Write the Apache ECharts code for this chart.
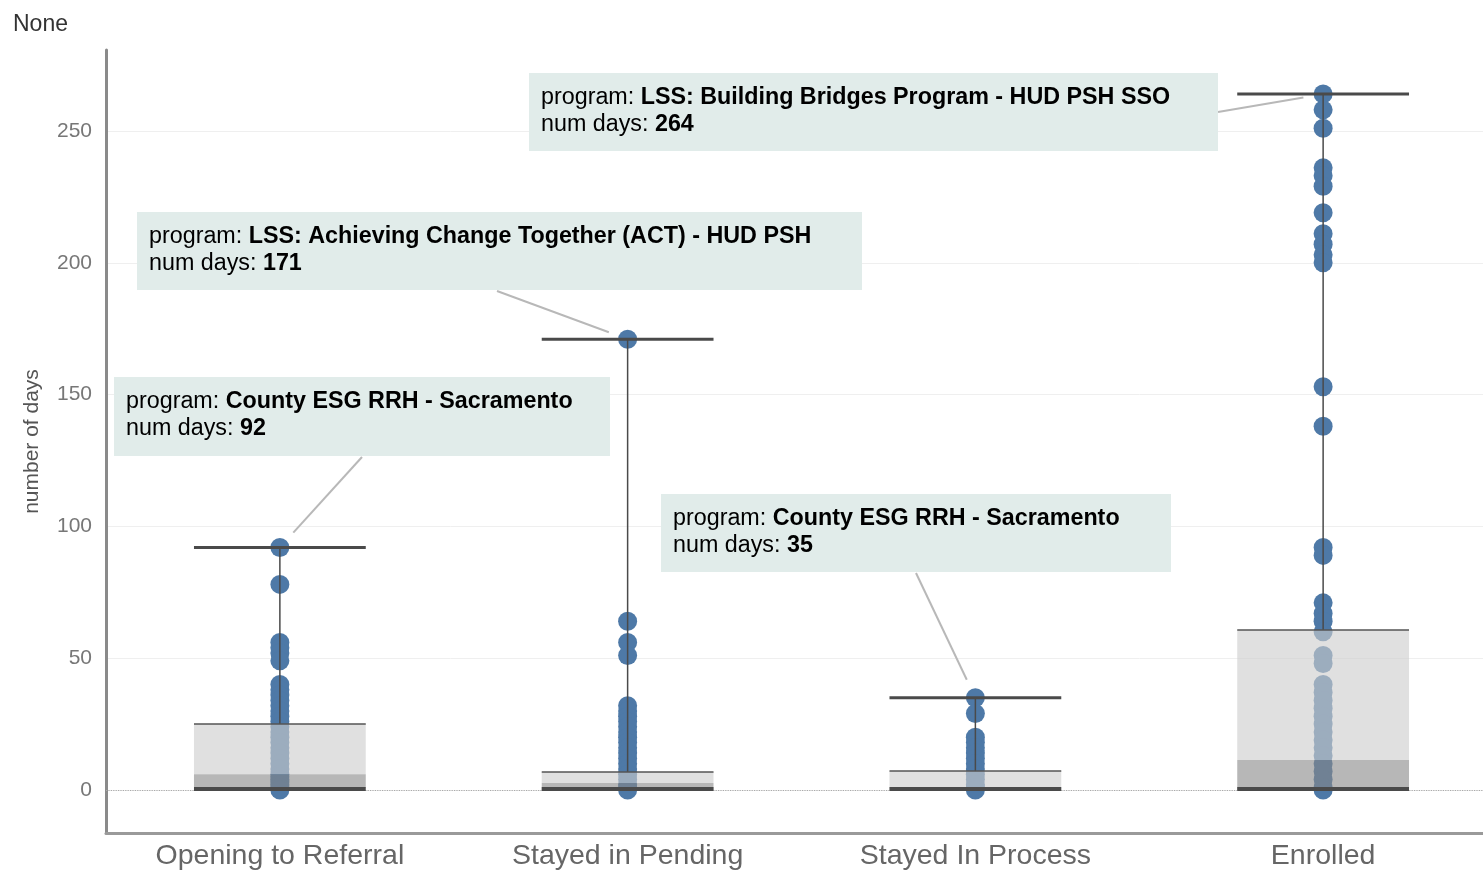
<!DOCTYPE html>
<html>
<head>
<meta charset="utf-8">
<title>number of days</title>
<script src="https://cdn.jsdelivr.net/npm/echarts@6/dist/echarts.min.js"></script>
<style>
  html, body { margin: 0; padding: 0; background: #fff; }
  #main { width: 1483px; height: 872px; }
</style>
</head>
<body>
<div id="main"></div>
<script>
// categories on the x axis
var categories = ['Opening to Referral', 'Stayed in Pending', 'Stayed In Process', 'Enrolled'];

// number of days per record
var openingDays = [92, 78, 56, 54, 52, 49, 40, 38, 36, 34, 32, 30, 28, 26, 24, 22, 20, 18, 16, 14, 12, 10, 8, 6, 5, 4, 3, 2, 1, 0];
var pendingDays = [171, 64, 56, 51, 32, 30, 28, 26, 24, 22, 20, 18, 16, 14, 12, 10, 8, 6, 4, 2, 1, 0];
var processDays = [35, 29, 20, 18, 16, 14, 12, 10, 8, 6, 4, 2, 1, 0];
var enrolledDays = [264, 258, 251, 236, 233, 229, 219, 211, 207, 203, 200, 153, 138, 92, 89, 71, 67, 64, 60,
  51, 48, 40, 37, 34, 31, 28, 25, 22, 19, 16, 13, 10, 7, 4, 1, 0];

// box stats: [lower whisker, q1, median, q3, upper whisker]
var openingBox = [0, 1, 6, 25, 92];
var pendingBox = [0, 0, 2.7, 6.8, 171];
var processBox = [0, 0, 0, 7.2, 35];
var enrolledBox = [0, 0, 11.4, 60.7, 264];

// annotations
var notePrograms = ['County ESG RRH - Sacramento', 'LSS: Achieving Change Together (ACT) - HUD PSH',
  'County ESG RRH - Sacramento', 'LSS: Building Bridges Program - HUD PSH SSO'];
var noteDays = [92, 171, 35, 264];

var allDays = [openingDays, pendingDays, processDays, enrolledDays];
var allBoxes = [openingBox, pendingBox, processBox, enrolledBox];

var dots = [];
allDays.forEach(function (list, i) {
  list.forEach(function (v) { dots.push([i, v]); });
});
var boxes = allBoxes.map(function (b, i) { return [i].concat(b); });

var myChart = echarts.init(document.getElementById('main'));

function renderBox(params, api) {
  var i = api.value(0);
  var half = api.size([1, 0])[0] * 0.247;
  var c = api.coord([i, 0])[0];
  var y = function (k) { return api.coord([i, api.value(k)])[1]; };
  var lo = y(1), q1 = y(2), med = y(3), q3 = y(4), hi = y(5);
  var x0 = c - half, x1 = c + half;
  return {
    type: 'group',
    children: [
      { type: 'rect', shape: { x: x0, y: q3, width: 2 * half, height: med - q3 }, style: { fill: 'rgba(205,205,205,0.62)' } },
      { type: 'rect', shape: { x: x0, y: med, width: 2 * half, height: q1 - med }, style: { fill: 'rgba(135,135,135,0.6)' } },
      { type: 'line', shape: { x1: c, y1: hi, x2: c, y2: q3 }, style: { stroke: '#4a4a4a', lineWidth: 1.5 } },
      { type: 'line', shape: { x1: x0, y1: q3, x2: x1, y2: q3 }, style: { stroke: '#555', lineWidth: 1.5 } },
      { type: 'line', shape: { x1: x0, y1: hi, x2: x1, y2: hi }, style: { stroke: '#4a4a4a', lineWidth: 3 } },
      { type: 'line', shape: { x1: x0, y1: lo - 1, x2: x1, y2: lo - 1 }, style: { stroke: '#4a4a4a', lineWidth: 4 } }
    ]
  };
}

var option = {
  animation: false,
  backgroundColor: '#fff',
  textStyle: { fontFamily: 'Liberation Sans, Arial, sans-serif' },
  title: {
    text: 'None',
    left: 8,
    top: 8,
    textStyle: { fontSize: 23, fontWeight: 'normal', color: '#333' }
  },
  grid: { left: 106, top: 50, right: -14, bottom: 39, outerBoundsMode: 'none', containLabel: false },
  xAxis: {
    type: 'category',
    data: categories,
    boundaryGap: true,
    axisLine: { onZero: false, lineStyle: { color: '#9a9a9a', width: 3 } },
    axisTick: { show: false },
    axisLabel: { fontSize: 28.5, color: '#666', margin: 9 },
    splitLine: { show: false }
  },
  yAxis: {
    type: 'value',
    min: -16.3,
    max: 280.7,
    splitNumber: 5,
    name: 'number of days',
    nameLocation: 'middle',
    nameRotate: 90,
    nameGap: 63,
    nameTextStyle: { fontSize: 21, color: '#555' },
    axisLine: { show: true, lineStyle: { color: '#8a8a8a', width: 3 } },
    axisTick: { show: false },
    axisLabel: {
      fontSize: 21, color: '#777', margin: 14,
      showMinLabel: false, showMaxLabel: false,
      formatter: function (v) { return v % 50 === 0 ? v : ''; }
    },
    splitLine: { show: true, showMinLine: false, showMaxLine: false, lineStyle: { color: '#efefef', width: 1 } }
  },
  series: [
    {
      name: 'days',
      type: 'scatter',
      data: dots,
      symbolSize: 19,
      itemStyle: { color: '#4e79a7', opacity: 1 },
      z: 2,
      markLine: {
        silent: true,
        symbol: 'none',
        z: 1,
        label: { show: false },
        lineStyle: { type: 'dotted', color: '#aaa', width: 1.2 },
        data: [{ yAxis: 0 }]
      }
    },
    {
      name: 'box',
      type: 'custom',
      renderItem: renderBox,
      data: boxes,
      encode: { x: 0, y: [1, 2, 3, 4, 5] },
      z: 5
    }
  ]
};
myChart.setOption(option);

// annotation layout (pixel boxes and leader start points)
var noteLayout = [
  { box: [114, 377, 496, 79], from: [362, 457] },
  { box: [137, 212, 725, 78], from: [497, 291] },
  { box: [661, 494, 510, 78], from: [916, 573] },
  { box: [529, 73, 689, 78], from: [1218, 112] }
];

var graphics = [];
noteLayout.forEach(function (n, i) {
  var p = myChart.convertToPixel({ seriesIndex: 0 }, [i, noteDays[i]]);
  var dx = p[0] - n.from[0], dy = p[1] - n.from[1];
  var len = Math.sqrt(dx * dx + dy * dy);
  var gap = 20;
  graphics.push({
    type: 'line',
    z: 10,
    shape: { x1: n.from[0], y1: n.from[1], x2: p[0] - dx / len * gap, y2: p[1] - dy / len * gap },
    style: { stroke: '#b8b8b8', lineWidth: 2 }
  });
  graphics.push({
    type: 'rect',
    z: 11,
    shape: { x: n.box[0], y: n.box[1], width: n.box[2], height: n.box[3] },
    style: { fill: '#e1ecea' }
  });
  graphics.push({
    type: 'text',
    z: 12,
    x: n.box[0] + 12,
    y: n.box[1] + 11,
    style: {
      text: '{l|program: }{b|' + notePrograms[i] + '}\n{l|num days: }{b|' + noteDays[i] + '}',
      rich: {
        l: { fontSize: 23.3, color: '#7a7a7a', fontFamily: 'Liberation Sans, Arial, sans-serif', lineHeight: 27 },
        b: { fontSize: 23.3, color: '#333', fontWeight: 'bold', fontFamily: 'Liberation Sans, Arial, sans-serif', lineHeight: 27 }
      }
    }
  });
});
myChart.setOption({ graphic: graphics });
</script>
</body>
</html>
